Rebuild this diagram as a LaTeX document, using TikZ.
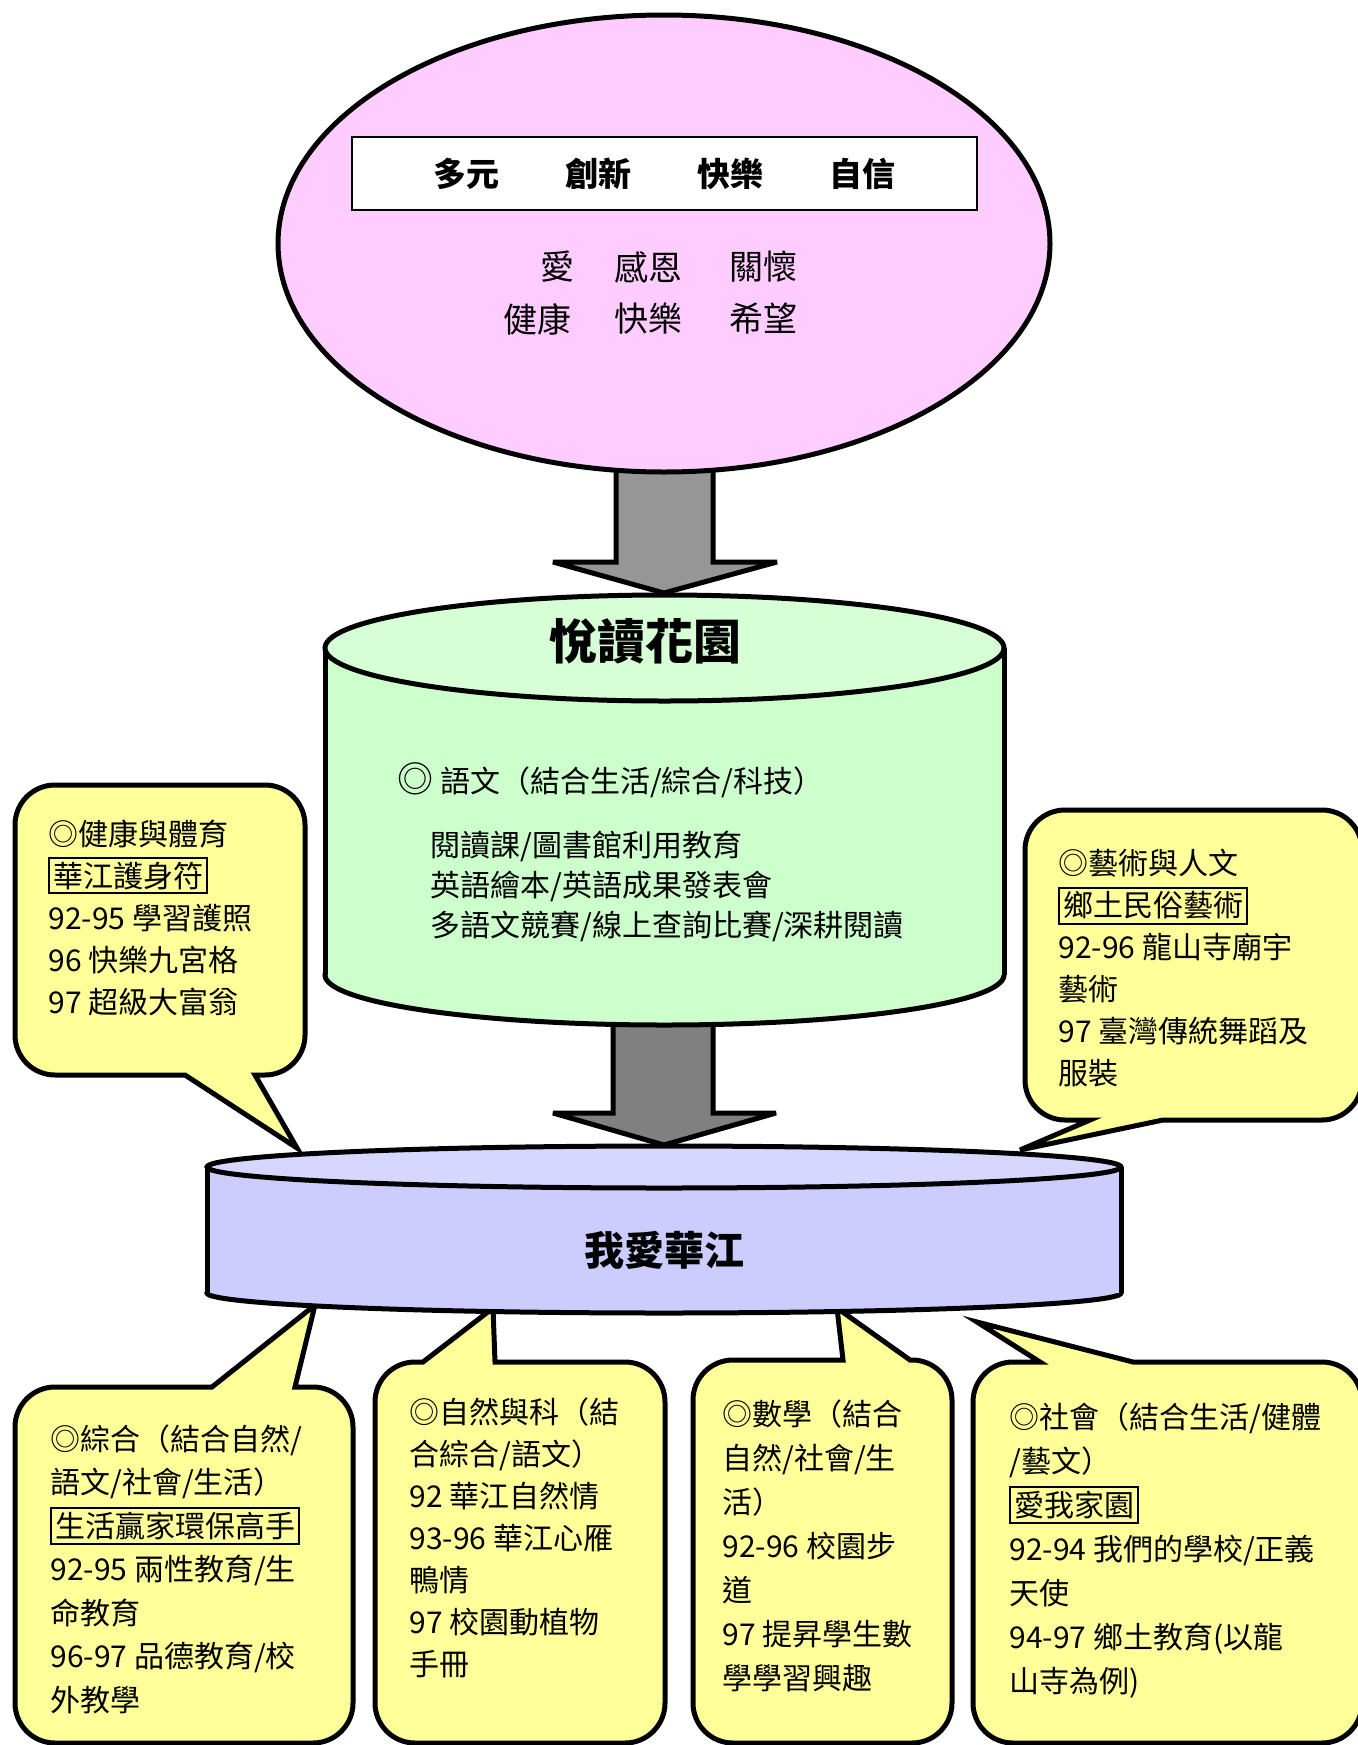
\documentclass[tikz,border=0pt]{standalone}
\usepackage{fontspec}
\setmainfont{Noto Sans CJK TC}
\usepackage{tikz}
\definecolor{pinkfill}{HTML}{FFCCFF}
\definecolor{greenbody}{HTML}{CCFFCC}
\definecolor{greentop}{HTML}{D6FFD6}
\definecolor{bluebody}{HTML}{CCCCFF}
\definecolor{bluetop}{HTML}{D6D6FF}
\definecolor{calloutyellow}{HTML}{FFFF99}
\definecolor{arrowone}{HTML}{969696}
\definecolor{arrowtwo}{HTML}{808080}
\setlength{\fboxsep}{1.5pt}
\setlength{\fboxrule}{1pt}

\begin{document}
\begin{tikzpicture}[x=0.5pt,y=-0.5pt,
  shell/.style={draw=black,line width=2.5pt},
  blockarrow/.style={draw=black,line width=2.5pt,miter limit=3},
  callout/.style={draw=black,fill=calloutyellow,line width=2.5pt},
  bodytext/.style={anchor=north west,inner sep=0pt,align=left,font=\fontsize{15}{21}\selectfont}]
% page
\path[use as bounding box,fill=white] (0,0) rectangle (1357,1745);

% block arrows
\filldraw[blockarrow,fill=arrowone] (616,440) -- (713,440) -- (713,562) -- (777,562) -- (664,593) -- (553,562) -- (616,562) -- cycle;
\filldraw[blockarrow,fill=arrowtwo] (613,990) -- (713,990) -- (713,1113) -- (776,1113) -- (664,1145) -- (553,1113) -- (613,1113) -- cycle;

% vision ellipse
\filldraw[shell,fill=pinkfill] (664,243.5) ellipse [x radius=386, y radius=228.5];
\filldraw[fill=white,draw=black,line width=1pt] (352,137) rectangle (977,210);
\node[font=\fontsize{16.5}{20}\selectfont\bfseries] (motto) at (664,174) {多元\hspace{2em}創新\hspace{2em}快樂\hspace{2em}自信};
\foreach \x/\y/\word [count=\i] in {540/267/愛, 614/267/感恩, 729/267/關懷, 503/319/健康, 614/319/快樂, 729/319/希望}{
  \node[anchor=west,inner sep=0pt,font=\fontsize{17}{20}\selectfont] (value\i) at (\x,\y) {\word};
}

% reading garden cylinder
\filldraw[shell,fill=greenbody] (664.5,975) ellipse [x radius=339.5, y radius=50];
\fill[greenbody] (325,648) rectangle (1004,975);
\draw[shell] (325,648) -- (325,975);
\draw[shell] (1004,648) -- (1004,975);
\filldraw[shell,fill=greentop] (664.5,648) ellipse [x radius=339.5, y radius=53];
\node[font=\fontsize{24}{28}\selectfont\bfseries] (garden) at (645,641) {悅讀花園};
\node[anchor=west,inner sep=0pt,font=\fontsize{15}{20}\selectfont] (langhead) at (397,780) {{\fontsize{18}{20}\selectfont ◎} 語文（結合生活/綜合/科技）};
\node[bodytext,font=\fontsize{15}{20}\selectfont] (langlist) at (430,830) {閱讀課/圖書館利用教育\\英語繪本/英語成果發表會\\多語文競賽/線上查詢比賽/深耕閱讀};

% callouts
\filldraw[callout] (255,1075) [rounded corners=20pt] -- (305,1075) -- (305,785) -- (15,785) -- (15,1075) [sharp corners] -- (185,1075) -- (297,1148) -- cycle;
\node[bodytext] (health) at (48,819) {◎健康與體育\\\fbox{華江護身符}\\92-95 學習護照\\96 快樂九宮格\\97 超級大富翁};

\filldraw[callout] (1090,1120) [rounded corners=20pt] -- (1025,1120) -- (1025,810) -- (1362,810) -- (1362,1120) [sharp corners] -- (1163,1120) -- (1020,1150) -- cycle;
\node[bodytext] (arts) at (1058,849) {◎藝術與人文\\\fbox{鄉土民俗藝術}\\92-96 龍山寺廟宇\\藝術\\97 臺灣傳統舞蹈及\\服裝};

\filldraw[callout] (295,1387) [rounded corners=20pt] -- (353,1387) -- (353,1743) -- (15,1743) -- (15,1387) [sharp corners] -- (212,1387) -- (315,1305) -- cycle;
\node[bodytext,font=\fontsize{15}{21.75}\selectfont] (integrated) at (50,1424) {◎綜合（結合自然/\\語文/社會/生活）\\\fbox{生活贏家環保高手}\\92-95 兩性教育/生\\命教育\\96-97 品德教育/校\\外教學};

\filldraw[callout] (423,1362) [rounded corners=20pt] -- (375,1362) -- (375,1743) -- (665,1743) -- (665,1362) [sharp corners] -- (495,1362) -- (493,1308) -- cycle;
\node[bodytext] (science) at (409,1397) {◎自然與科（結\\合綜合/語文）\\92 華江自然情\\93-96 華江心雁\\鴨情\\97 校園動植物\\手冊};

\filldraw[callout] (910,1360) [rounded corners=20pt] -- (952,1360) -- (952,1743) -- (693,1743) -- (693,1360) [sharp corners] -- (843,1360) -- (837,1308) -- cycle;
\node[bodytext,font=\fontsize{15}{22}\selectfont] (math) at (722,1399) {◎數學（結合\\自然/社會/生\\活）\\92-96 校園步\\道\\97 提昇學生數\\學學習興趣};

\filldraw[callout] (1040,1362) [rounded corners=20pt] -- (973,1362) -- (973,1743) -- (1362,1743) -- (1362,1362) [sharp corners] -- (1133,1362) -- (977,1322) -- cycle;
\node[bodytext,font=\fontsize{15}{22}\selectfont] (social) at (1009,1402) {◎社會（結合生活/健體\\/藝文）\\\fbox{愛我家園}\\92-94 我們的學校/正義\\天使\\94-97 鄉土教育(以龍\\山寺為例)};

% school cylinder
\filldraw[shell,fill=bluebody] (664,1293) ellipse [x radius=457, y radius=20];
\fill[bluebody] (207,1167) rectangle (1121,1293);
\draw[shell] (207,1167) -- (207,1293);
\draw[shell] (1121,1167) -- (1121,1293);
\filldraw[shell,fill=bluetop] (664,1167) ellipse [x radius=457, y radius=21];
\node[font=\fontsize{20}{24}\selectfont\bfseries] (school) at (664,1250) {我愛華江};
\end{tikzpicture}
\end{document}
